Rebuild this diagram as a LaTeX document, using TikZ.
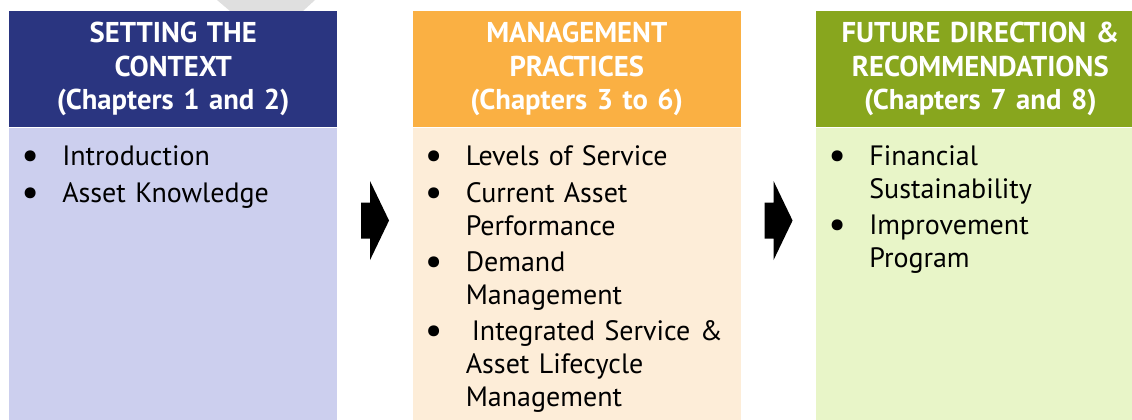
\documentclass[tikz,border=0pt]{standalone}
\usepackage{fontspec}
\setmainfont{PT Sans}
\usetikzlibrary{positioning,calc}

\definecolor{ctxblue}{RGB}{42,53,128}
\definecolor{ctxlight}{RGB}{204,207,238}
\definecolor{pracorange}{RGB}{250,176,67}
\definecolor{praclight}{RGB}{253,237,216}
\definecolor{futgreen}{RGB}{136,166,30}
\definecolor{futlight}{RGB}{232,245,200}

\newcommand{\bul}{\llap{\makebox[48pt][c]{\raisebox{-2.2pt}{\scalebox{1.4}{\textbullet}}}}}
\newcommand{\itm}{\par\noindent\bul}
\newcommand{\blockarrow}[1]{\fill (#1) ++(-14,-18) -- ++(9,0) -- ++(0,-21.5) -- ++(19,39.5) -- ++(-19,39.5) -- ++(0,-21.5) -- ++(-9,0) -- cycle;}

\tikzset{
	head/.style = {fill = #1, text = white, align = center, text width = 246pt, minimum height = 87pt, inner sep = 0pt, anchor = north west, font = \fontsize{21.5}{25.2}\selectfont\bfseries},
	body/.style = {fill = #1, minimum width = 246pt, minimum height = 224pt, inner sep = 0pt, anchor = north},
	list/.style = {anchor = north west, align = left, text width = 200pt, inner sep = 0pt, font = \fontsize{21}{24.6}\selectfont\setlength{\parskip}{2.8pt}\setlength{\parindent}{0pt}}
}

\begin{document}
\begin{tikzpicture}[x = 0.75pt, y = -0.75pt]
	\useasboundingbox (0,0) rectangle (1132,419);
	\clip (0,0) rectangle (1132,419);

	\fill [gray!25](217,0) -- (315,0) -- (303,11) -- (230,11) -- cycle;

	\node (ctxhead)[head = ctxblue] at (9,11) {SETTING THE\\CONTEXT\\(Chapters 1 and 2)};
	\node (prachead)[head = pracorange, right = 56.25pt of ctxhead] {MANAGEMENT\\PRACTICES\\(Chapters 3 to 6)};
	\node (futhead)[head = futgreen, right = 56.25pt of prachead] {FUTURE DIRECTION \&\\RECOMMENDATIONS\\(Chapters 7 and 8)};

	\node (ctxbody)[body = ctxlight] at (ctxhead.south) {};
	\node (pracbody)[body = praclight] at (prachead.south) {};
	\node (futbody)[body = futlight] at (futhead.south) {};

	\node (ctxlist)[list] at ($(ctxhead.south west)+(53,18)$) {\bul Introduction
		\itm Asset Knowledge};
	\node (praclist)[list] at ($(prachead.south west)+(53,18)$) {\bul Levels of Service
		\itm Current Asset\\Performance
		\itm Demand\\Management
		\itm \hspace{4.5pt}Integrated Service \&\\Asset Lifecycle\\Management};
	\node (futlist)[list] at ($(futhead.south west)+(53,18)$) {\bul Financial\\Sustainability
		\itm Improvement\\Program};

	\coordinate (arr1) at ($($(ctxhead.south east)!0.5!(prachead.south west)$)+(0,93)$);
	\coordinate (arr2) at ($($(prachead.south east)!0.5!(futhead.south west)$)+(0,93)$);
	\blockarrow{arr1}
	\blockarrow{arr2}
\end{tikzpicture}
\end{document}
